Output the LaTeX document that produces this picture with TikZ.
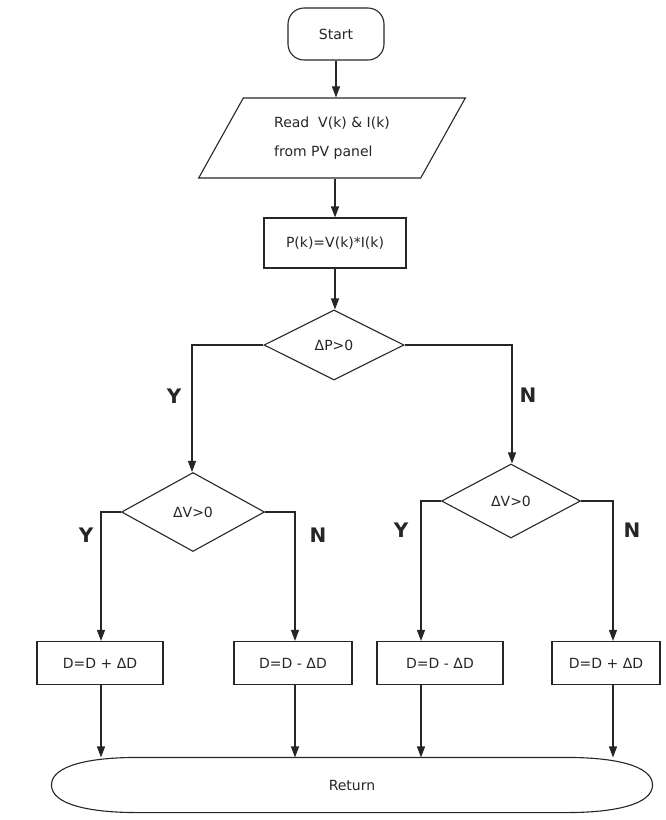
\documentclass[tikz,border=0pt]{standalone}
\usepackage{fontspec}
\setmainfont{DejaVu Sans}
\usetikzlibrary{shapes.geometric,arrows.meta}

\begin{document}
\begin{tikzpicture}[x=1pt,y=1pt,yscale=-1,xscale=1,
  line width=1.1pt,draw=black!85,
  txt/.style={font=\fontsize{14}{16}\selectfont,text=black!85},
  box/.style={txt,draw,rectangle,minimum height=43pt,inner sep=2pt},
  dec/.style={txt,draw,diamond,aspect=2,inner sep=1pt},
  lbl/.style={font=\fontsize{20}{22}\selectfont\bfseries,text=black!85},
  arr/.style={-{Triangle[length=11pt,width=8pt]}}]
\path[use as bounding box] (0,0) rectangle (665,820);

% top of the chart
\node[txt,draw,rounded corners=16pt,minimum width=96pt,minimum height=52pt] (start) at (336,34) {Start};
\node[txt,draw,trapezium,trapezium left angle=58,trapezium right angle=122,trapezium stretches=true,
  minimum width=267pt,minimum height=80pt,align=left,font=\fontsize{14}{29}\selectfont] (read) at (332,138) {Read\ \ V(k) \& I(k)\\from PV panel};
\node[box,minimum width=142pt,minimum height=50pt] (pk) at (335,243) {P(k)=V(k)*I(k)};
\node[dec,minimum width=140pt,minimum height=70pt] (dp) at (334,345) {ΔP>0};

\draw[arr] (start.south) -- (start.south |- read.north);
\draw[arr] (pk.north |- read.south) -- (pk.north);
\draw[arr] (pk.south) -- (pk.south |- dp.north);

% second level
\node[dec,minimum width=143pt,minimum height=79pt] (dvl) at (193,512) {ΔV>0};
\node[dec,minimum width=139pt,minimum height=74pt] (dvr) at (511,501) {ΔV>0};

\coordinate (ly) at (192,345);
\coordinate (rn) at (512,345);
\draw[arr] (dp.west) -- (ly) -- (ly |- dvl.north);
\draw[arr] (dp.east) -- (rn) -- (rn |- dvr.north);

\node[lbl] (y0) at (174,396) {Y};
\node[lbl] (n0) at (528,395) {N};

% bottom boxes
\node[box,minimum width=126pt] (b1) at (100,663) {D=D + ΔD};
\node[box,minimum width=118pt] (b2) at (293,663) {D=D - ΔD};
\node[box,minimum width=126pt] (b3) at (440,663) {D=D - ΔD};
\node[box,minimum width=108pt] (b4) at (606,663) {D=D + ΔD};

\coordinate (ya) at (101,512);
\coordinate (nb) at (295,512);
\coordinate (yc) at (421,501);
\coordinate (nd) at (613,501);
\draw[arr] (dvl.west) -- (ya) -- (ya |- b1.north);
\draw[arr] (dvl.east) -- (nb) -- (nb |- b2.north);
\draw[arr] (dvr.west) -- (yc) -- (yc |- b3.north);
\draw[arr] (dvr.east) -- (nd) -- (nd |- b4.north);

\node[lbl] (y1) at (86,535) {Y};
\node[lbl] (n1) at (318,535) {N};
\node[lbl] (y2) at (401,530) {Y};
\node[lbl] (n2) at (632,530) {N};

% return
\node[txt,minimum width=600pt,minimum height=54pt] (ret) at (352,785) {Return};
\draw (ret.west) .. controls +(0,-20) and +(-45,0) .. ([xshift=85pt]ret.north west)
  -- ([xshift=-85pt]ret.north east) .. controls +(45,0) and +(0,-20) .. (ret.east)
  .. controls +(0,20) and +(45,0) .. ([xshift=-85pt]ret.south east)
  -- ([xshift=85pt]ret.south west) .. controls +(-45,0) and +(0,20) .. (ret.west);

\draw[arr] (ya |- b1.south) -- (ya |- ret.north);
\draw[arr] (nb |- b2.south) -- (nb |- ret.north);
\draw[arr] (yc |- b3.south) -- (yc |- ret.north);
\draw[arr] (nd |- b4.south) -- (nd |- ret.north);

\end{tikzpicture}
\end{document}
